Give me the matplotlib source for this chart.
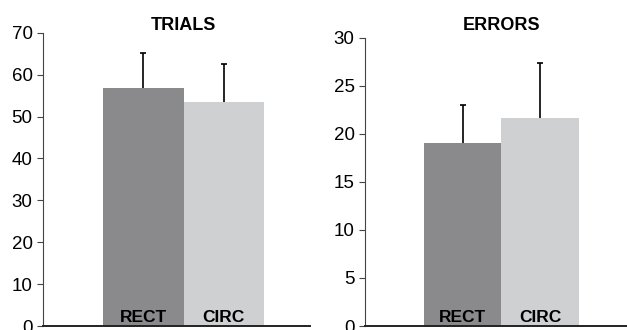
import numpy as np
import matplotlib
matplotlib.use('Agg')
import matplotlib.pyplot as plt

plt.rcParams['font.family'] = ['Liberation Sans', 'DejaVu Sans']

# Dados
condicoes = ['RECT', 'CIRC']
trials_media = [56.7, 53.5]
trials_erro = [8.5, 9.1]
errors_media = [19.0, 21.6]
errors_erro = [4.0, 5.8]

cores = ['#8a8a8c', '#cfd0d2']

fig = plt.figure(figsize=(6.27, 3.30), dpi=100)
ax1 = fig.add_axes([0.0686, 0.0121, 0.4258, 0.8888])
ax2 = fig.add_axes([0.5821, 0.0121, 0.4179, 0.8737])


def painel(ax, medias, erros, titulo, ymax, passo, xlim):
    x = np.arange(len(condicoes))
    ax.bar(x, medias, width=1.0, color=cores, zorder=1)
    eb = ax.errorbar(x, medias, yerr=[np.zeros(len(erros)), erros], fmt='none',
                     ecolor='black', elinewidth=1.2, capsize=2.5, capthick=1.2, zorder=2)
    eb[1][0].set_visible(False)  # sem capa na parte de baixo
    for xi, nome in zip(x, condicoes):
        ax.annotate(nome, (xi, 0), xytext=(0, 1), textcoords='offset points',
                    ha='center', va='bottom', fontsize=12.5, fontweight='bold')
    ax.annotate(titulo, (0.5, 0.909), xycoords=('data', 'figure fraction'),
                ha='center', va='baseline', fontsize=13, fontweight='bold',
                annotation_clip=False)
    ax.set_xlim(*xlim)
    ax.set_ylim(0, ymax)
    ax.set_yticks(np.arange(0, ymax + 1, passo))
    ax.set_xticks([])
    ax.tick_params(axis='y', labelsize=13.5, length=4, width=0.8, color='#444444')
    for s in ['top', 'right']:
        ax.spines[s].set_visible(False)
    ax.spines['left'].set_color('#444444')
    ax.spines['left'].set_linewidth(0.8)
    ax.spines['bottom'].set_color('#222222')
    ax.spines['bottom'].set_linewidth(1.4)
    ax.spines['bottom'].set_zorder(3)


painel(ax1, trials_media, trials_erro, 'TRIALS', 70, 10, (-1.245, 2.07))
painel(ax2, errors_media, errors_erro, 'ERRORS', 30, 5, (-1.26, 2.12))

plt.savefig('out.png', dpi=100)
